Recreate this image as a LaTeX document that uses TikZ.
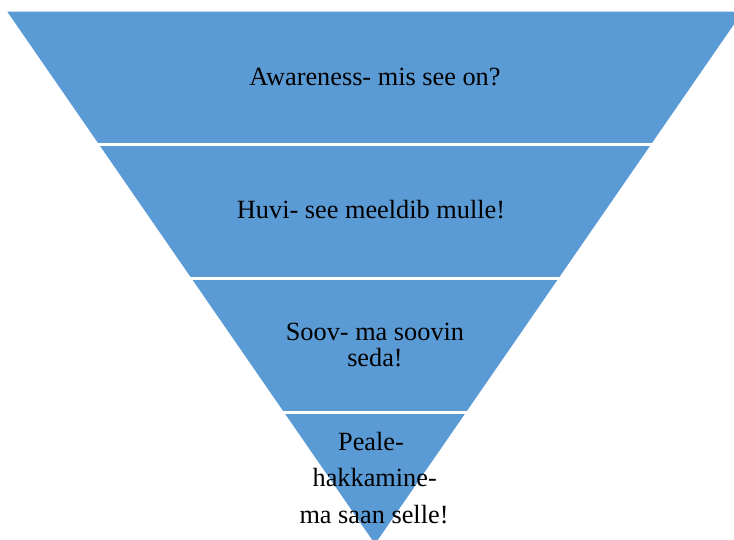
\documentclass[tikz,border=0pt]{standalone}
\usepackage{fontspec}
\setmainfont{Liberation Serif}
\definecolor{funnelblue}{RGB}{91,155,213}
\tikzset{
  lbl/.style={anchor=base, inner sep=0pt, text=black, font=\fontsize{26.3}{26.3}\selectfont},
  gap/.style={draw=white, line width=3pt}
}
\begin{document}
\begin{tikzpicture}[x=1pt,y=-1pt]
\useasboundingbox (0,0) rectangle (734,540);
\clip (0,0) rectangle (734,540);
\fill[funnelblue] (7.3,11.7) -- (742.7,11.7) -- (375,544) -- cycle;
\draw[gap] (0,144.5) -- (734,144.5);
\draw[gap] (0,279) -- (734,279);
\draw[gap] (0,412.5) -- (734,412.5);
\node[lbl] (t1) at (375,86) {Awareness- mis see on?};
\node[lbl] (t2) at (371,218.3) {Huvi- see meeldib mulle!};
\node[lbl] (t3a) at (375,340.7) {Soov- ma soovin};
\node[lbl] (t3b) at (375,366.7) {seda!};
\node[lbl] (t4a) at (371,450) {Peale-};
\node[lbl] (t4b) at (374.7,486.7) {hakkamine-};
\node[lbl] (t4c) at (374,523) {ma saan selle!};
\end{tikzpicture}
\end{document}
